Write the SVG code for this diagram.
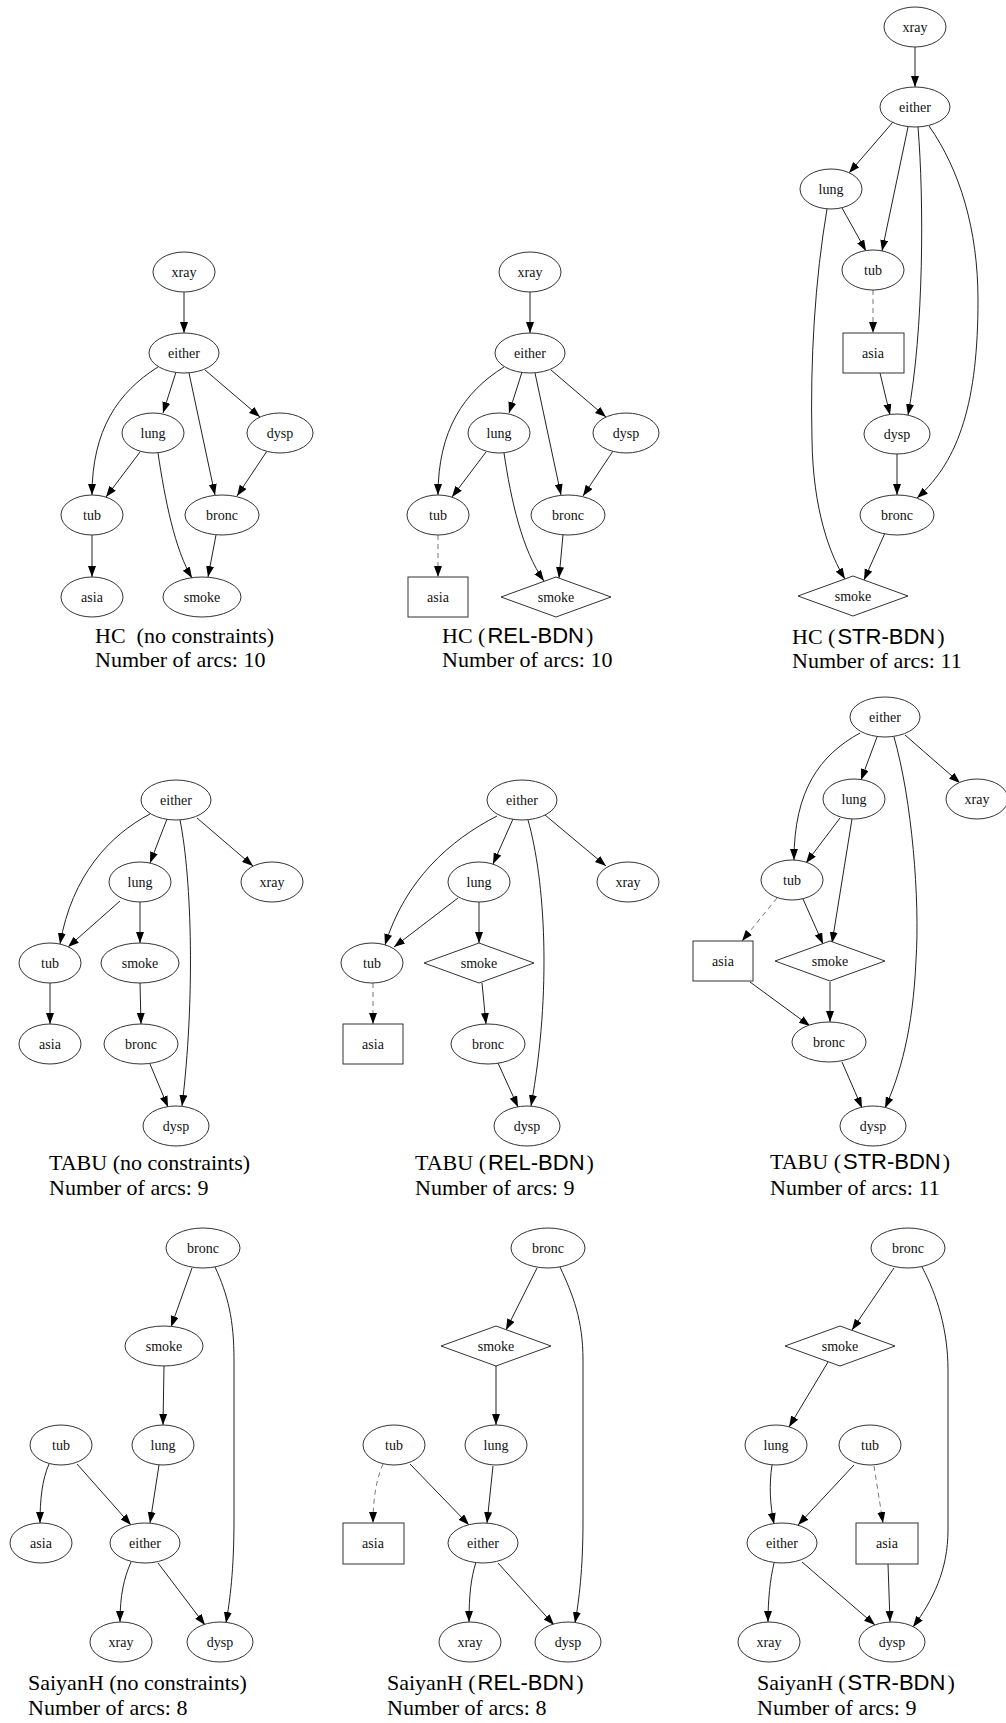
<svg xmlns="http://www.w3.org/2000/svg" width="1006" height="1723" viewBox="0 0 1006 1723">
<style>
.n ellipse,.n rect,.n polygon{fill:#fff;stroke:#333;stroke-width:1}
.n text{font-family:"Liberation Serif","Times New Roman",serif;font-size:14px;fill:#111;text-anchor:middle}
.e path{fill:none;stroke:#222;stroke-width:1;marker-end:url(#ah)}
.e path.d{stroke:#777;stroke-dasharray:5,4}
.cap{font-family:"Liberation Serif","Times New Roman",serif;font-size:22px;fill:#000}
.sans{font-family:"Liberation Sans",Arial,sans-serif}
</style>
<defs>
<marker id="ah" markerUnits="userSpaceOnUse" markerWidth="11" markerHeight="9" refX="11" refY="4" orient="auto">
<path d="M0,0 L11,4 L0,8 z" fill="#000"/>
</marker>
</defs>
<rect width="1006" height="1723" fill="#fff"/>

<!-- Panel 1: HC no constraints -->
<g id="p1">
<g id="p1-edges" class="e">
<path d="M184,292 L184,333"/>
<path d="M176,372 L163,413"/>
<path d="M158,367 C118,392 92,430 92,495"/>
<path d="M189,373 L215,495"/>
<path d="M205,370 L260,417"/>
<path d="M140,452 L106,497"/>
<path d="M158,453 C165,500 175,550 192,578"/>
<path d="M267,451 L237,496"/>
<path d="M216,535 L208,577"/>
<path d="M92,535 L92,577"/>
</g>
<g id="p1-xray" class="n"><ellipse cx="184" cy="272" rx="31" ry="20"/><text x="184" y="277">xray</text></g>
<g id="p1-either" class="n"><ellipse cx="184" cy="353" rx="35" ry="20"/><text x="184" y="358">either</text></g>
<g id="p1-lung" class="n"><ellipse cx="153" cy="433" rx="31" ry="20"/><text x="153" y="438">lung</text></g>
<g id="p1-dysp" class="n"><ellipse cx="280" cy="433" rx="33" ry="20"/><text x="280" y="438">dysp</text></g>
<g id="p1-tub" class="n"><ellipse cx="92" cy="515" rx="31" ry="20"/><text x="92" y="520">tub</text></g>
<g id="p1-bronc" class="n"><ellipse cx="222" cy="515" rx="37" ry="20"/><text x="222" y="520">bronc</text></g>
<g id="p1-asia" class="n"><ellipse cx="92" cy="597" rx="31" ry="20"/><text x="92" y="602">asia</text></g>
<g id="p1-smoke" class="n"><ellipse cx="202" cy="597" rx="39" ry="20"/><text x="202" y="602">smoke</text></g>
<text class="cap" x="95" y="643">HC<tspan dx="11">(no constraints)</tspan></text>
<text class="cap" x="95" y="667">Number of arcs: 10</text>
</g>

<!-- Panel 2: HC REL-BDN -->
<g id="p2">
<g id="p2-edges" class="e">
<path d="M530,292 L530,333"/>
<path d="M522,372 L509,413"/>
<path d="M504,367 C464,392 438,430 438,495"/>
<path d="M535,373 L561,495"/>
<path d="M551,370 L606,417"/>
<path d="M486,452 L452,497"/>
<path d="M504,453 C511,500 522,550 544,581"/>
<path d="M613,451 L583,496"/>
<path d="M563,535 L559,578"/>
<path class="d" d="M438,535 L438,577"/>
</g>
<g id="p2-xray" class="n"><ellipse cx="530" cy="272" rx="31" ry="20"/><text x="530" y="277">xray</text></g>
<g id="p2-either" class="n"><ellipse cx="530" cy="353" rx="35" ry="20"/><text x="530" y="358">either</text></g>
<g id="p2-lung" class="n"><ellipse cx="499" cy="433" rx="31" ry="20"/><text x="499" y="438">lung</text></g>
<g id="p2-dysp" class="n"><ellipse cx="626" cy="433" rx="33" ry="20"/><text x="626" y="438">dysp</text></g>
<g id="p2-tub" class="n"><ellipse cx="438" cy="515" rx="31" ry="20"/><text x="438" y="520">tub</text></g>
<g id="p2-bronc" class="n"><ellipse cx="568" cy="515" rx="37" ry="20"/><text x="568" y="520">bronc</text></g>
<g id="p2-asia" class="n"><rect x="408" y="577" width="60" height="40"/><text x="438" y="602">asia</text></g>
<g id="p2-smoke" class="n"><polygon points="556,577 611,597 556,617 501,597"/><text x="556" y="602">smoke</text></g>
<text class="cap" x="442" y="643">HC (<tspan class="sans" dx="2">REL-BDN</tspan><tspan dx="2">)</tspan></text>
<text class="cap" x="442" y="667">Number of arcs: 10</text>
</g>

<!-- Panel 3: HC STR-BDN -->
<g id="p3">
<g id="p3-edges" class="e">
<path d="M915,47 L915,87"/>
<path d="M893,122 L849,173"/>
<path d="M908,127 L882,251"/>
<path d="M918,127 C924,200 924,330 908,415"/>
<path d="M929,126 C960,170 978,230 978,300 C978,400 960,460 917,498"/>
<path d="M842,208 L866,251"/>
<path d="M827,209 C815,280 810,360 812,440 C813,510 830,555 845,579"/>
<path class="d" d="M873,290 L873,333"/>
<path d="M880,373 L890,415"/>
<path d="M897,454 L897,495"/>
<path d="M885,533 L864,580"/>
</g>
<g id="p3-xray" class="n"><ellipse cx="915" cy="27" rx="31" ry="20"/><text x="915" y="32">xray</text></g>
<g id="p3-either" class="n"><ellipse cx="915" cy="107" rx="35" ry="20"/><text x="915" y="112">either</text></g>
<g id="p3-lung" class="n"><ellipse cx="831" cy="189" rx="31" ry="20"/><text x="831" y="194">lung</text></g>
<g id="p3-tub" class="n"><ellipse cx="873" cy="270" rx="31" ry="20"/><text x="873" y="275">tub</text></g>
<g id="p3-asia" class="n"><rect x="843" y="333" width="61" height="40"/><text x="873" y="358">asia</text></g>
<g id="p3-dysp" class="n"><ellipse cx="897" cy="434" rx="33" ry="20"/><text x="897" y="439">dysp</text></g>
<g id="p3-bronc" class="n"><ellipse cx="897" cy="515" rx="37" ry="20"/><text x="897" y="520">bronc</text></g>
<g id="p3-smoke" class="n"><polygon points="853,576 908,596 853,616 798,596"/><text x="853" y="601">smoke</text></g>
<text class="cap" x="792" y="644">HC (<tspan class="sans" dx="2">STR-BDN</tspan><tspan dx="2">)</tspan></text>
<text class="cap" x="792" y="668">Number of arcs: 11</text>
</g>

<!-- Panel 4: TABU no constraints -->
<g id="p4">
<g id="p4-edges" class="e">
<path d="M167,819 L150,863"/>
<path d="M150,814 C110,835 72,875 60,944"/>
<path d="M180,820 C192,880 195,1000 182,1106"/>
<path d="M197,818 L253,866"/>
<path d="M120,901 L68,947"/>
<path d="M140,902 L140,943"/>
<path d="M50,983 L50,1024"/>
<path d="M140,983 L141,1024"/>
<path d="M150,1064 L168,1107"/>
</g>
<g id="p4-either" class="n"><ellipse cx="176" cy="800" rx="35" ry="20"/><text x="176" y="805">either</text></g>
<g id="p4-lung" class="n"><ellipse cx="140" cy="882" rx="31" ry="20"/><text x="140" y="887">lung</text></g>
<g id="p4-xray" class="n"><ellipse cx="272" cy="882" rx="31" ry="20"/><text x="272" y="887">xray</text></g>
<g id="p4-tub" class="n"><ellipse cx="50" cy="963" rx="31" ry="20"/><text x="50" y="968">tub</text></g>
<g id="p4-smoke" class="n"><ellipse cx="140" cy="963" rx="39" ry="20"/><text x="140" y="968">smoke</text></g>
<g id="p4-asia" class="n"><ellipse cx="50" cy="1044" rx="31" ry="20"/><text x="50" y="1049">asia</text></g>
<g id="p4-bronc" class="n"><ellipse cx="141" cy="1044" rx="37" ry="20"/><text x="141" y="1049">bronc</text></g>
<g id="p4-dysp" class="n"><ellipse cx="176" cy="1126" rx="33" ry="20"/><text x="176" y="1131">dysp</text></g>
<text class="cap" x="49" y="1170">TABU (no constraints)</text>
<text class="cap" x="49" y="1195">Number of arcs: 9</text>
</g>

<!-- Panel 5: TABU REL-BDN -->
<g id="p5">
<g id="p5-edges" class="e">
<path d="M513,819 L493,864"/>
<path d="M497,816 C450,840 405,880 385,945"/>
<path d="M528,820 C545,880 552,990 531,1106"/>
<path d="M545,815 L606,866"/>
<path d="M458,898 L394,947"/>
<path d="M479,902 L479,943"/>
<path class="d" d="M373,983 L373,1024"/>
<path d="M482,983 L486,1024"/>
<path d="M498,1063 L518,1107"/>
</g>
<g id="p5-either" class="n"><ellipse cx="522" cy="800" rx="35" ry="20"/><text x="522" y="805">either</text></g>
<g id="p5-lung" class="n"><ellipse cx="479" cy="882" rx="31" ry="20"/><text x="479" y="887">lung</text></g>
<g id="p5-xray" class="n"><ellipse cx="628" cy="882" rx="31" ry="20"/><text x="628" y="887">xray</text></g>
<g id="p5-tub" class="n"><ellipse cx="372" cy="963" rx="31" ry="20"/><text x="372" y="968">tub</text></g>
<g id="p5-smoke" class="n"><polygon points="479,943 534,963 479,983 424,963"/><text x="479" y="968">smoke</text></g>
<g id="p5-asia" class="n"><rect x="343" y="1024" width="60" height="40"/><text x="373" y="1049">asia</text></g>
<g id="p5-bronc" class="n"><ellipse cx="488" cy="1044" rx="37" ry="20"/><text x="488" y="1049">bronc</text></g>
<g id="p5-dysp" class="n"><ellipse cx="527" cy="1126" rx="33" ry="20"/><text x="527" y="1131">dysp</text></g>
<text class="cap" x="415" y="1170">TABU (<tspan class="sans" dx="2">REL-BDN</tspan><tspan dx="2">)</tspan></text>
<text class="cap" x="415" y="1195">Number of arcs: 9</text>
</g>

<!-- Panel 6: TABU STR-BDN -->
<g id="p6">
<g id="p6-edges" class="e">
<path d="M877,737 L861,780"/>
<path d="M860,733 C820,755 794,790 794,860"/>
<path d="M894,737 C912,800 920,900 916,960 C913,1030 900,1075 885,1108"/>
<path d="M905,735 L960,783"/>
<path d="M840,818 L806,863"/>
<path d="M852,819 L832,943"/>
<path class="d" d="M777,898 L742,941"/>
<path d="M803,899 L823,944"/>
<path d="M750,982 L810,1026"/>
<path d="M830,982 L830,1022"/>
<path d="M842,1062 L862,1108"/>
</g>
<g id="p6-either" class="n"><ellipse cx="885" cy="717" rx="35" ry="20"/><text x="885" y="722">either</text></g>
<g id="p6-lung" class="n"><ellipse cx="854" cy="799" rx="31" ry="20"/><text x="854" y="804">lung</text></g>
<g id="p6-xray" class="n"><ellipse cx="977" cy="799" rx="31" ry="20"/><text x="977" y="804">xray</text></g>
<g id="p6-tub" class="n"><ellipse cx="792" cy="880" rx="31" ry="20"/><text x="792" y="885">tub</text></g>
<g id="p6-asia" class="n"><rect x="693" y="941" width="60" height="40"/><text x="723" y="966">asia</text></g>
<g id="p6-smoke" class="n"><polygon points="830,941 885,961 830,981 775,961"/><text x="830" y="966">smoke</text></g>
<g id="p6-bronc" class="n"><ellipse cx="829" cy="1042" rx="37" ry="20"/><text x="829" y="1047">bronc</text></g>
<g id="p6-dysp" class="n"><ellipse cx="873" cy="1126" rx="33" ry="20"/><text x="873" y="1131">dysp</text></g>
<text class="cap" x="770" y="1169">TABU (<tspan class="sans" dx="2">STR-BDN</tspan><tspan dx="2">)</tspan></text>
<text class="cap" x="770" y="1195">Number of arcs: 11</text>
</g>

<!-- Panel 7: SaiyanH no constraints -->
<g id="p7">
<g id="p7-edges" class="e">
<path d="M192,1268 L171,1327"/>
<path d="M215,1267 C228,1295 234,1320 234,1360 L234,1520 C234,1570 230,1600 226,1623"/>
<path d="M164,1366 L163,1425"/>
<path d="M49,1464 C42,1480 40,1500 40,1523"/>
<path d="M77,1464 L131,1525"/>
<path d="M159,1465 L150,1523"/>
<path d="M131,1562 C124,1578 120,1595 120,1622"/>
<path d="M158,1563 L205,1625"/>
</g>
<g id="p7-bronc" class="n"><ellipse cx="203" cy="1248" rx="37" ry="20"/><text x="203" y="1253">bronc</text></g>
<g id="p7-smoke" class="n"><ellipse cx="164" cy="1346" rx="39" ry="20"/><text x="164" y="1351">smoke</text></g>
<g id="p7-tub" class="n"><ellipse cx="61" cy="1445" rx="31" ry="20"/><text x="61" y="1450">tub</text></g>
<g id="p7-lung" class="n"><ellipse cx="163" cy="1445" rx="31" ry="20"/><text x="163" y="1450">lung</text></g>
<g id="p7-asia" class="n"><ellipse cx="41" cy="1543" rx="31" ry="20"/><text x="41" y="1548">asia</text></g>
<g id="p7-either" class="n"><ellipse cx="145" cy="1543" rx="35" ry="20"/><text x="145" y="1548">either</text></g>
<g id="p7-xray" class="n"><ellipse cx="121" cy="1642" rx="31" ry="20"/><text x="121" y="1647">xray</text></g>
<g id="p7-dysp" class="n"><ellipse cx="220" cy="1642" rx="33" ry="20"/><text x="220" y="1647">dysp</text></g>
<text class="cap" x="28" y="1690">SaiyanH (no constraints)</text>
<text class="cap" x="28" y="1715">Number of arcs: 8</text>
</g>

<!-- Panel 8: SaiyanH REL-BDN -->
<g id="p8">
<g id="p8-edges" class="e">
<path d="M537,1268 L506,1330"/>
<path d="M560,1267 C573,1295 583,1320 583,1360 L583,1520 C583,1570 579,1600 575,1623"/>
<path d="M496,1366 L496,1425"/>
<path class="d" d="M383,1464 C376,1480 373,1500 373,1523"/>
<path d="M410,1464 L469,1525"/>
<path d="M493,1466 L487,1523"/>
<path d="M476,1562 C471,1578 469,1595 469,1622"/>
<path d="M498,1563 L554,1625"/>
</g>
<g id="p8-bronc" class="n"><ellipse cx="548" cy="1248" rx="37" ry="20"/><text x="548" y="1253">bronc</text></g>
<g id="p8-smoke" class="n"><polygon points="496,1326 551,1346 496,1366 441,1346"/><text x="496" y="1351">smoke</text></g>
<g id="p8-tub" class="n"><ellipse cx="394" cy="1445" rx="31" ry="20"/><text x="394" y="1450">tub</text></g>
<g id="p8-lung" class="n"><ellipse cx="496" cy="1445" rx="31" ry="20"/><text x="496" y="1450">lung</text></g>
<g id="p8-asia" class="n"><rect x="343" y="1523" width="61" height="41"/><text x="373" y="1548">asia</text></g>
<g id="p8-either" class="n"><ellipse cx="483" cy="1543" rx="35" ry="20"/><text x="483" y="1548">either</text></g>
<g id="p8-xray" class="n"><ellipse cx="470" cy="1642" rx="31" ry="20"/><text x="470" y="1647">xray</text></g>
<g id="p8-dysp" class="n"><ellipse cx="568" cy="1642" rx="33" ry="20"/><text x="568" y="1647">dysp</text></g>
<text class="cap" x="387" y="1690">SaiyanH (<tspan class="sans" dx="2">REL-BDN</tspan><tspan dx="2">)</tspan></text>
<text class="cap" x="387" y="1715">Number of arcs: 8</text>
</g>

<!-- Panel 9: SaiyanH STR-BDN -->
<g id="p9">
<g id="p9-edges" class="e">
<path d="M894,1268 L852,1330"/>
<path d="M922,1267 C937,1295 948,1330 948,1370 L948,1530 C948,1570 933,1600 913,1627"/>
<path d="M828,1362 L789,1427"/>
<path d="M772,1465 C769,1485 770,1505 774,1524"/>
<path d="M854,1465 L798,1525"/>
<path class="d" d="M874,1466 L883,1523"/>
<path d="M774,1563 C770,1580 768,1600 768,1622"/>
<path d="M802,1562 L875,1625"/>
<path d="M888,1564 L890,1622"/>
</g>
<g id="p9-bronc" class="n"><ellipse cx="908" cy="1248" rx="37" ry="20"/><text x="908" y="1253">bronc</text></g>
<g id="p9-smoke" class="n"><polygon points="840,1326 895,1346 840,1366 785,1346"/><text x="840" y="1351">smoke</text></g>
<g id="p9-lung" class="n"><ellipse cx="776" cy="1445" rx="31" ry="20"/><text x="776" y="1450">lung</text></g>
<g id="p9-tub" class="n"><ellipse cx="870" cy="1445" rx="31" ry="20"/><text x="870" y="1450">tub</text></g>
<g id="p9-either" class="n"><ellipse cx="782" cy="1543" rx="35" ry="20"/><text x="782" y="1548">either</text></g>
<g id="p9-asia" class="n"><rect x="856" y="1523" width="62" height="41"/><text x="887" y="1548">asia</text></g>
<g id="p9-xray" class="n"><ellipse cx="769" cy="1642" rx="31" ry="20"/><text x="769" y="1647">xray</text></g>
<g id="p9-dysp" class="n"><ellipse cx="892" cy="1642" rx="33" ry="20"/><text x="892" y="1647">dysp</text></g>
<text class="cap" x="757" y="1690">SaiyanH (<tspan class="sans" dx="2">STR-BDN</tspan><tspan dx="2">)</tspan></text>
<text class="cap" x="757" y="1715">Number of arcs: 9</text>
</g>
</svg>
